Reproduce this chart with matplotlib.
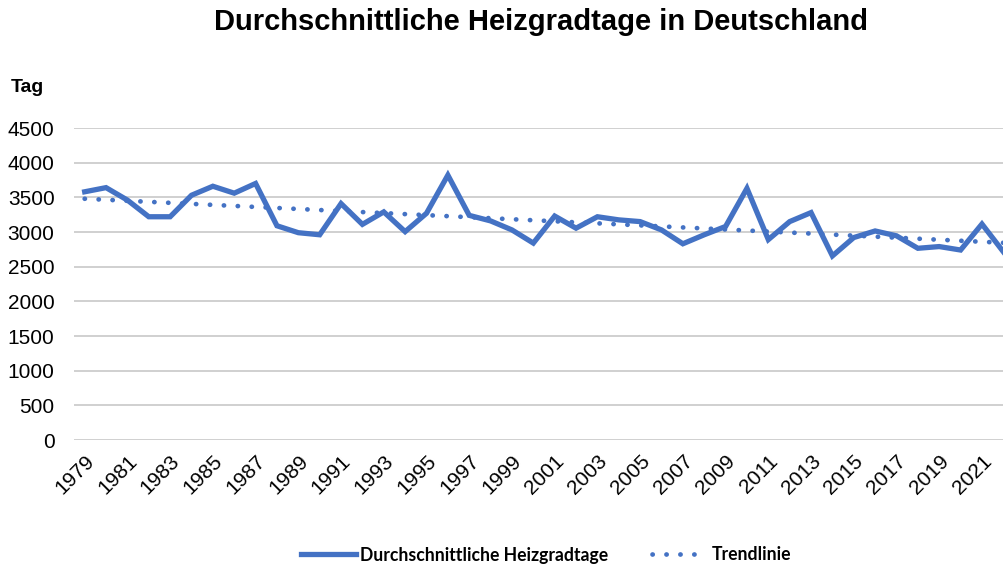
import numpy as np
import matplotlib.pyplot as plt
from matplotlib.lines import Line2D

years = list(range(1979, 2023))
heizgradtage = [3580, 3640, 3460, 3220, 3220, 3530, 3660, 3560, 3700, 3090,
                2990, 2960, 3410, 3110, 3290, 3005, 3270, 3820, 3240, 3160,
                3030, 2840, 3230, 3055, 3220, 3175, 3150, 3030, 2830, 2960,
                3080, 3630, 2890, 3150, 3280, 2655, 2920, 3015, 2945, 2765,
                2790, 2740, 3115, 2715]
y_ticks = [0, 500, 1000, 1500, 2000, 2500, 3000, 3500, 4000, 4500]
blue = "#4472C4"

x = np.arange(len(years))
# Excel-style linear trend line
slope, intercept = np.polyfit(x, heizgradtage, 1)
trend = slope * x + intercept

dotted = (0, (0.05, 2.9))

fig = plt.figure(figsize=(10.04, 5.64), dpi=100)
ax = fig.add_axes([74 / 1004, 1 - 440 / 564, 940 / 1004, 312 / 564])

ax.plot(x, heizgradtage, color=blue, linewidth=3.8, solid_joinstyle="miter",
        label="Durchschnittliche Heizgradtage", zorder=3)
ax.plot(x, trend, color=blue, linewidth=3.4, linestyle=dotted,
        dash_capstyle="round", label="Trendlinie", zorder=2)

ax.set_xlim(-0.5, len(years) - 0.5)
ax.set_ylim(0, 4500)
ax.set_yticks(y_ticks)
ax.set_xticks(x[::2])
ax.set_xticklabels([str(y) for y in years[::2]], rotation=45, ha="right",
                   rotation_mode="anchor")
ax.grid(axis="y", color="#D0D0D0", linewidth=1.4)
ax.set_axisbelow(True)
for s in ax.spines.values():
    s.set_visible(False)
ax.tick_params(axis="both", length=0, labelsize=15, colors="black")
ax.tick_params(axis="y", pad=14)
ax.tick_params(axis="x", pad=8)
for lab in ax.get_xticklabels() + ax.get_yticklabels():
    lab.set_family("Liberation Sans")

fig.text(541 / 1004, 1 - 22 / 564, "Durchschnittliche Heizgradtage in Deutschland",
         ha="center", va="center", fontsize=21, fontweight="bold",
         family="Liberation Sans")
fig.text(11 / 1004, 1 - 87 / 564, "Tag", ha="left", va="center", fontsize=14,
         fontweight="bold", family="Liberation Sans")

handles = [Line2D([], [], color=blue, linewidth=3.8),
           Line2D([], [], color=blue, linewidth=3.4, linestyle=dotted,
                  dash_capstyle="round")]
fig.legend(handles, ["Durchschnittliche Heizgradtage", "Trendlinie"],
           loc="center", bbox_to_anchor=(546 / 1004, 1 - 555 / 564), ncol=2,
           frameon=False, handlelength=3.1, handletextpad=0.25, columnspacing=2.5,
           prop={"family": "Lato", "weight": "bold", "size": 12.7})

fig.savefig("out.png", dpi=100)
